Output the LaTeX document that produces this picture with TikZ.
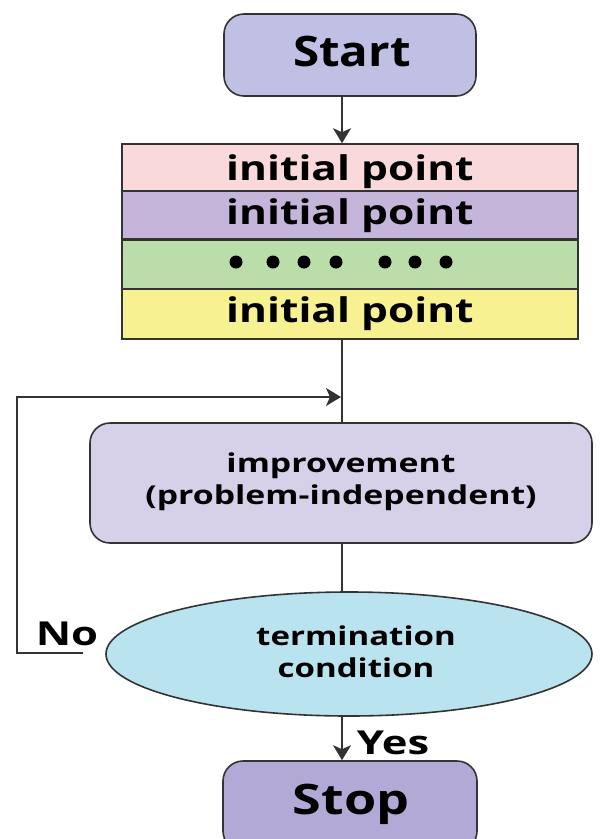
\documentclass[tikz,border=0pt]{standalone}
\usepackage{graphicx}
\usepackage{fontspec}
\setmainfont{Open Sans}
\usetikzlibrary{arrows.meta,shapes.geometric}
\definecolor{cstart}{HTML}{BFC0E3}
\definecolor{cpink}{HTML}{FAD9DA}
\definecolor{cpurp}{HTML}{C5B5DA}
\definecolor{cgreen}{HTML}{BADDA9}
\definecolor{cyell}{HTML}{F7F192}
\definecolor{cimpr}{HTML}{D6D1E9}
\definecolor{cterm}{HTML}{B9E3EF}
\definecolor{cstop}{HTML}{B3A9D6}
\definecolor{cline}{HTML}{333333}
\newcommand{\hstretch}[2]{\scalebox{#1}[1]{#2}}
\begin{document}
\begin{tikzpicture}[x=1pt,y=-1pt,
  every node/.style={font=\bfseries},
  termbox/.style={draw=cline,line width=1.6pt,rounded corners=20pt,inner sep=0pt},
  rowbox/.style={draw=cline,line width=1.6pt,inner sep=0pt},
  conn/.style={draw=cline,line width=1.8pt},
  arr/.style={conn,-{Stealth[width=18pt,length=15pt,inset=4pt]}},
  bigtxt/.style={font=\bfseries\fontsize{42}{46}\selectfont},
  midtxt/.style={font=\bfseries\fontsize{34}{38}\selectfont},
  lbltxt/.style={font=\bfseries\fontsize{33}{36}\selectfont},
  smtxt/.style={font=\bfseries\fontsize{26}{32}\selectfont,align=center}]
\useasboundingbox (0,0) rectangle (602,839);
\coordinate (axis) at (342,0);
% start
\node[termbox,fill=cstart,minimum width=252pt,minimum height=82pt] (start) at (350,55) {};
\node[bigtxt] (starttxt) at (352,51) {\hstretch{1.13}{Start}};
% stack
\node[rowbox,fill=cpink,minimum width=456pt,minimum height=47pt] (p1) at (350,167.5) {};
\node[rowbox,fill=cpurp,minimum width=456pt,minimum height=48pt] (p2) at (350,215) {};
\node[rowbox,fill=cgreen,minimum width=456pt,minimum height=49pt] (pd) at (350,264.5) {};
\node[rowbox,fill=cyell,minimum width=456pt,minimum height=50pt] (p3) at (350,314) {};
\node[midtxt] (t1) at (350,172) {\hstretch{1.25}{initial point}};
\node[midtxt] (t2) at (350,216) {\hstretch{1.25}{initial point}};
\node[midtxt] (t3) at (350,314) {\hstretch{1.25}{initial point}};
\foreach \i/\x in {1/236,2/273,3/304,4/336,5/385,6/415,7/446}
  \fill[black] (\x,262) circle (6.5pt) coordinate (dot\i);
% improvement
\node[termbox,fill=cimpr,minimum width=502pt,minimum height=120pt] (impr) at (341,483) {};
\node[smtxt] (imprtxt) at (341,482) {\hstretch{1.3}{improvement}\\\hstretch{1.3}{(problem-independent)}};
% termination
\node[ellipse,draw=cline,line width=1.6pt,fill=cterm,minimum width=486pt,minimum height=124pt,inner sep=0pt] (term) at (349,654) {};
\node[smtxt] (termtxt) at (356,652) {\hstretch{1.27}{termination}\\\hstretch{1.27}{condition}};
% stop
\node[termbox,fill=cstop,minimum width=254pt,minimum height=90pt] (stop) at (350,806) {};
\node[bigtxt] (stoptxt) at (351,804) {\hstretch{1.24}{Stop}};
% connectors
\draw[arr] (start.south -| axis) -- (p1.north -| axis);
\draw[conn] (p3.south -| axis) -- (impr.north -| axis);
\draw[conn] (impr.south -| axis) -- (term.north -| axis);
\draw[arr] (term.south -| axis) -- (stop.north -| axis);
\coordinate (nofree) at (83,653);
\coordinate (loopL) at (17,397);
\coordinate (loopJ) at (341,397);
\draw[arr] (nofree) -| (loopL) -- (loopJ);
\node[lbltxt] (no) at (67,634) {\hstretch{1.32}{No}};
\node[lbltxt] (yes) at (393,743) {\hstretch{1.32}{Yes}};
\end{tikzpicture}
\end{document}
